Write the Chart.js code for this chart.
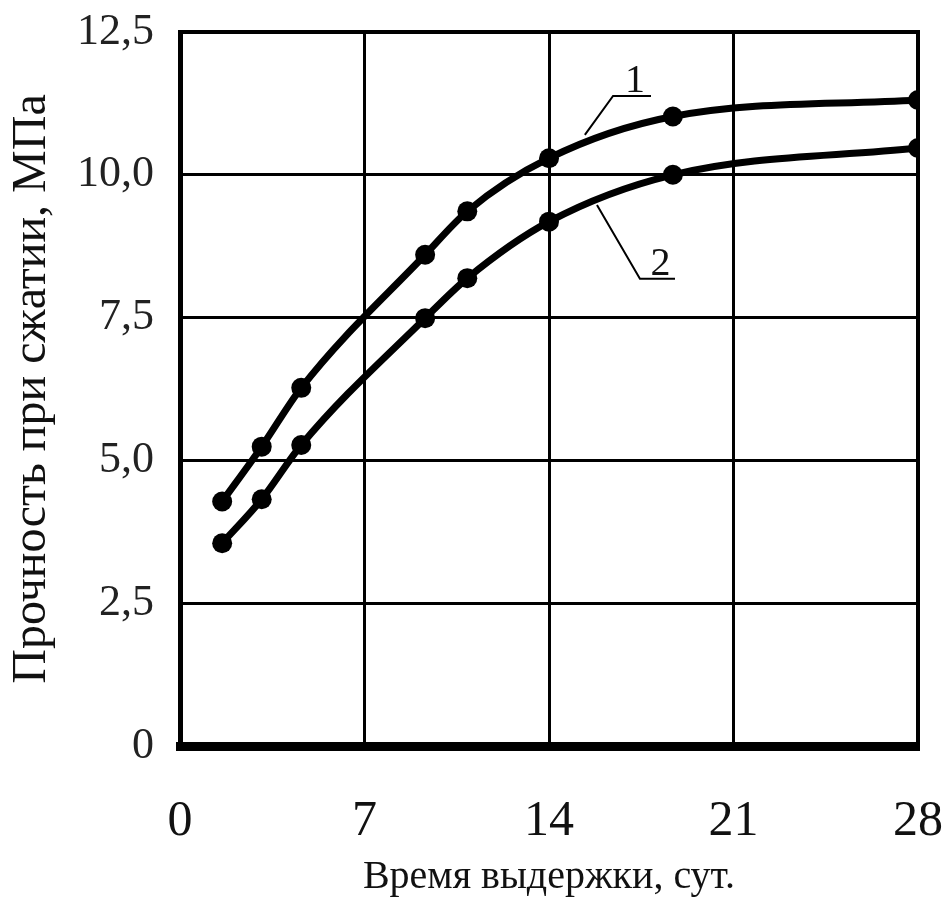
<!DOCTYPE html>
<html lang="ru">
<head>
<meta charset="utf-8">
<title>Прочность при сжатии</title>
<script src="https://cdn.jsdelivr.net/npm/chart.js@4.4.1/dist/chart.umd.min.js"></script>
<style>
  html, body { margin: 0; padding: 0; background: #fff; }
  #wrap { width: 950px; height: 921px; }
</style>
</head>
<body>
<div id="wrap"><canvas id="myChart" width="950" height="921"></canvas></div>
<script>
// Время выдержки, сут.
const days = [1.6, 3.1, 4.6, 9.3, 10.9, 14, 18.7, 28];
// Прочность при сжатии, МПа
const curve1 = [4.28, 5.24, 6.27, 8.6, 9.36, 10.29, 11.02, 11.31];
const curve2 = [3.55, 4.32, 5.27, 7.49, 8.19, 9.18, 10.0, 10.47];
// подписи осей
const xTickLabels = ['0', '7', '14', '21', '28'];
const yTickLabels = ['0', '2,5', '5,0', '7,5', '10,0', '12,5'];
// выноски с номерами кривых: текст, точка на кривой, начало и конец полки
const callouts = [
  { text: '1', at: [15.36, 10.70], shelf: [16.43, 17.87, 11.38] },
  { text: '2', at: [15.82, 9.47], shelf: [17.45, 18.78, 8.18] }
];

const FONT = '"Liberation Serif", "Times New Roman", serif';

function toPoints(ys) {
  return days.map((d, i) => ({ x: d, y: ys[i] }));
}

// рисуем выноски "1" и "2" поверх графика
const calloutPlugin = {
  id: 'callouts',
  afterDatasetsDraw(chart) {
    const { ctx, scales: { x, y } } = chart;
    ctx.save();
    ctx.strokeStyle = '#000';
    ctx.lineWidth = 2;
    ctx.fillStyle = '#111';
    ctx.font = '40px ' + FONT;
    ctx.textAlign = 'center';
    ctx.textBaseline = 'alphabetic';
    callouts.forEach(c => {
      const x0 = x.getPixelForValue(c.at[0]);
      const y0 = y.getPixelForValue(c.at[1]);
      const x1 = x.getPixelForValue(c.shelf[0]);
      const x2 = x.getPixelForValue(c.shelf[1]);
      const ys = y.getPixelForValue(c.shelf[2]);
      ctx.beginPath();
      ctx.moveTo(x0, y0);
      ctx.lineTo(x1, ys);
      ctx.lineTo(x2, ys);
      ctx.stroke();
      ctx.fillText(c.text, (x1 + x2) / 2 + 3, ys - 4);
    });
    ctx.restore();
  }
};

// рамка сверху и справа
const framePlugin = {
  id: 'frame',
  beforeDatasetsDraw(chart) {
    const { ctx, chartArea: a } = chart;
    ctx.save();
    ctx.strokeStyle = '#000';
    ctx.lineWidth = 4;
    ctx.beginPath();
    ctx.moveTo(a.left, a.top);
    ctx.lineTo(a.right, a.top);
    ctx.lineTo(a.right, a.bottom);
    ctx.stroke();
    ctx.restore();
  }
};

const lineStyle = {
  borderColor: '#000',
  backgroundColor: '#000',
  borderWidth: 7,
  pointRadius: 10,
  pointBackgroundColor: '#000',
  pointBorderWidth: 0,
  tension: 0.4,
  cubicInterpolationMode: 'monotone'
};

const ctx = document.getElementById('myChart').getContext('2d');
new Chart(ctx, {
  type: 'line',
  data: {
    datasets: [
      { label: '1', data: toPoints(curve1), ...lineStyle },
      { label: '2', data: toPoints(curve2), ...lineStyle }
    ]
  },
  options: {
    responsive: false,
    animation: false,
    layout: { padding: { top: 32, right: 32, left: 0, bottom: 16 } },
    plugins: {
      legend: { display: false },
      tooltip: { enabled: false }
    },
    scales: {
      x: {
        type: 'linear',
        min: 0,
        max: 28,
        afterFit: scale => {
          scale.height = 159;
          scale.paddingLeft = 0;
          scale.paddingRight = 0;
        },
        afterBuildTicks: scale => {
          scale.ticks = xTickLabels.map(t => ({ value: Number(t) }));
        },
        ticks: {
          color: '#111',
          padding: 46,
          font: { family: FONT, size: 50 },
          maxRotation: 0,
          callback: (v, i) => xTickLabels[i]
        },
        grid: { color: '#000', lineWidth: 3, drawTicks: false },
        border: { color: '#000', width: 9 },
        title: {
          display: true,
          text: 'Время выдержки, сут.',
          color: '#111',
          font: { family: FONT, size: 40 }
        }
      },
      y: {
        min: 0,
        max: 12.5,
        afterFit: scale => {
          scale.width = 180;
          scale.paddingTop = 0;
          scale.paddingBottom = 0;
        },
        afterBuildTicks: scale => {
          scale.ticks = yTickLabels.map(t => ({ value: Number(t.replace(',', '.')) }));
        },
        ticks: {
          color: '#222',
          padding: 26,
          font: { family: FONT, size: 44 },
          callback: (v, i) => yTickLabels[i]
        },
        grid: { color: '#000', lineWidth: 3, drawTicks: false },
        border: { color: '#000', width: 5 },
        title: {
          display: true,
          text: 'Прочность при сжатии, МПа',
          color: '#111',
          font: { family: FONT, size: 48 },
          padding: { top: 4, bottom: 4 }
        }
      }
    }
  },
  plugins: [framePlugin, calloutPlugin]
});
</script>
</body>
</html>
